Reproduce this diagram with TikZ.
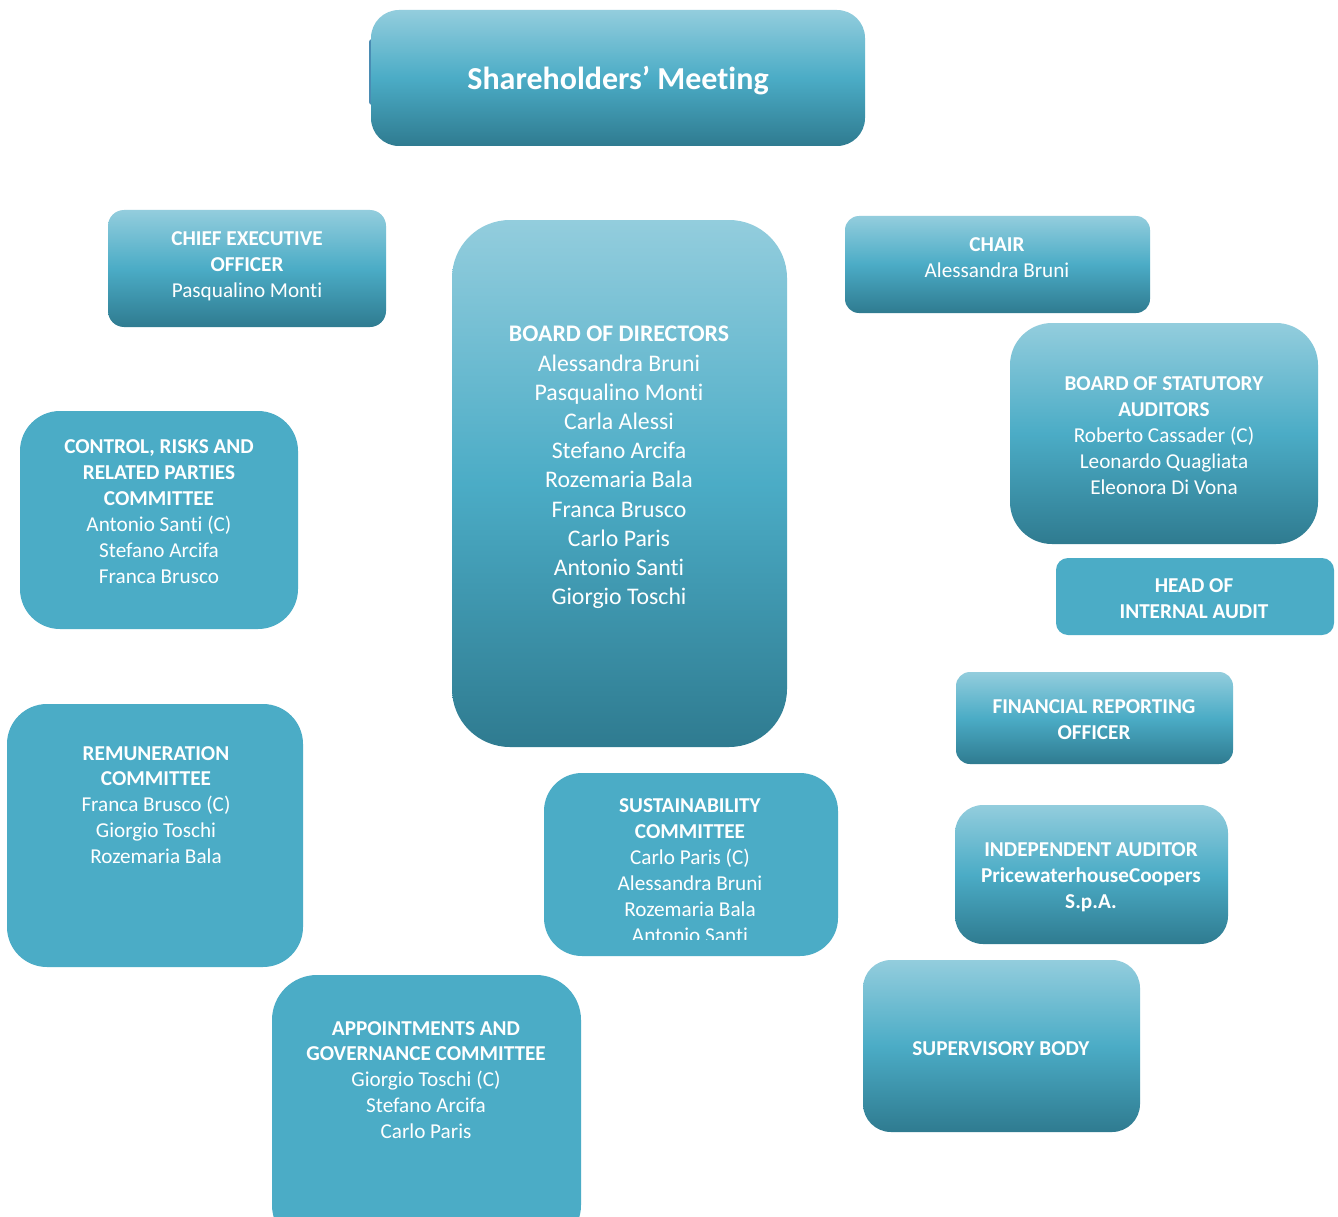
\documentclass[tikz,border=0pt]{standalone}
\usepackage{fontspec}
\setmainfont[Ligatures=NoCommon]{Carlito}
\definecolor{gtop}{HTML}{93CDDD}
\definecolor{gmid}{HTML}{4BACC6}
\definecolor{gbot}{HTML}{2F7B90}
\definecolor{flat}{HTML}{4BACC6}
\definecolor{edge}{HTML}{4A8CB3}
\begin{document}
\begin{tikzpicture}[x=1pt,y=-1pt,
  gbox/.style={rectangle,inner sep=0pt,outer sep=0pt,draw=none,top color=gtop,bottom color=gbot,middle color=gmid},
  fbox/.style={rectangle,inner sep=0pt,outer sep=0pt,draw=none,fill=flat},
  txt/.style={text=white,align=center,inner sep=0pt,font=\fontsize{21.2}{25.9}\selectfont},
  bigtxt/.style={text=white,align=center,inner sep=0pt,font=\fontsize{23.8}{29.2}\selectfont}]
\clip (0,0) rectangle (1338,1217);
\fill[white] (0,0) rectangle (1338,1217);
% Shareholders
\node[rectangle,fill=edge,minimum width=8pt,minimum height=66pt,inner sep=0pt,rounded corners=3pt] (shedge) at (373,72) {};
\node[gbox,rounded corners=28pt,minimum width=494pt,minimum height=136pt] (sh) at (618,78) {};
\node[text=white,inner sep=0pt,font=\fontsize{32}{38}\selectfont\bfseries] (sht) at (618,81) {Shareholders’ Meeting};
% CEO
\node[gbox,rounded corners=16pt,minimum width=278pt,minimum height=117pt] (ceo) at (247,268.5) {};
\node[txt] (ceot) at (247,266) {\textbf{CHIEF EXECUTIVE}\\\textbf{OFFICER}\\Pasqualino Monti};
% Board
\node[gbox,rounded corners=58pt,minimum width=335pt,minimum height=527pt] (board) at (619.5,483.5) {};
\node[bigtxt] (boardt) at (619,467.5) {\textbf{BOARD OF DIRECTORS}\\Alessandra Bruni\\Pasqualino Monti\\Carla Alessi\\Stefano Arcifa\\Rozemaria Bala\\Franca Brusco\\Carlo Paris\\Antonio Santi\\Giorgio Toschi};
% Chair
\node[gbox,rounded corners=14pt,minimum width=305pt,minimum height=97pt] (chair) at (997.5,264.5) {};
\node[txt] (chairt) at (997,257.5) {\textbf{CHAIR}\\Alessandra Bruni};
% Statutory auditors
\node[gbox,rounded corners=42pt,minimum width=308pt,minimum height=221pt] (bsa) at (1164,433.5) {};
\node[txt] (bsat) at (1164,435.5) {\textbf{BOARD OF STATUTORY}\\\textbf{AUDITORS}\\Roberto Cassader (C)\\Leonardo Quagliata\\Eleonora Di Vona};
% Head of internal audit
\node[fbox,rounded corners=12pt,minimum width=278pt,minimum height=77pt] (head) at (1195,596.5) {};
\node[txt] (headt) at (1194,598.5) {\textbf{HEAD OF}\\\textbf{INTERNAL AUDIT}};
% Control risks
\node[fbox,rounded corners=40pt,minimum width=278pt,minimum height=218pt] (ctrl) at (159,520) {};
\node[txt] (ctrlt) at (159,511.5) {\textbf{CONTROL, RISKS AND}\\\textbf{RELATED PARTIES}\\\textbf{COMMITTEE}\\Antonio Santi (C)\\Stefano Arcifa\\Franca Brusco};
% Financial reporting
\node[gbox,rounded corners=14pt,minimum width=277pt,minimum height=92pt] (fin) at (1094.5,718) {};
\node[txt] (fint) at (1094,719.5) {\textbf{FINANCIAL REPORTING}\\\textbf{OFFICER}};
% Remuneration
\node[fbox,rounded corners=40pt,minimum width=296pt,minimum height=263pt] (rem) at (155,835.5) {};
\node[txt] (remt) at (156,805) {\textbf{REMUNERATION}\\\textbf{COMMITTEE}\\Franca Brusco (C)\\Giorgio Toschi\\Rozemaria Bala};
% Sustainability
\node[fbox,rounded corners=38pt,minimum width=294pt,minimum height=183pt] (sus) at (691,864.5) {};
\begin{scope}
\clip (540,760) rectangle (850,939);
\node[txt] (sust) at (690,870.5) {\textbf{SUSTAINABILITY}\\\textbf{COMMITTEE}\\Carlo Paris (C)\\Alessandra Bruni\\Rozemaria Bala\\Antonio Santi};
\end{scope}
% Independent auditor
\node[gbox,rounded corners=28pt,minimum width=273pt,minimum height=139pt] (ind) at (1091.5,874.5) {};
\node[txt] (indt) at (1091,877) {\textbf{INDEPENDENT AUDITOR}\\\textbf{PricewaterhouseCoopers}\\\textbf{S.p.A.}};
% Supervisory body
\node[gbox,rounded corners=28pt,minimum width=277pt,minimum height=172pt] (sup) at (1001.5,1046) {};
\node[txt] (supt) at (1001,1048.5) {\textbf{SUPERVISORY BODY}};
% Appointments
\node[fbox,rounded corners=45pt,minimum width=309pt,minimum height=275pt] (app) at (426.5,1112.5) {};
\node[txt] (appt) at (426,1080) {\textbf{APPOINTMENTS AND}\\\textbf{GOVERNANCE COMMITTEE}\\Giorgio Toschi (C)\\Stefano Arcifa\\Carlo Paris};
\end{tikzpicture}
\end{document}
